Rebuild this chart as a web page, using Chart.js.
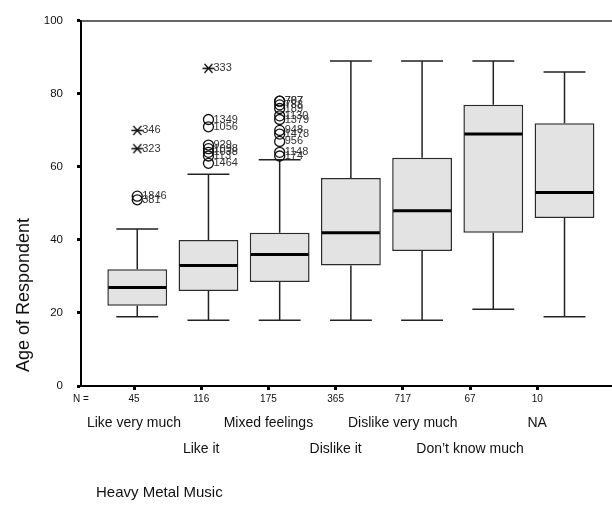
<!DOCTYPE html>
<html>
<head>
<meta charset="utf-8">
<title>Age of Respondent / Heavy Metal Music</title>
<script src="https://cdn.jsdelivr.net/npm/chart.js@4.4.1/dist/chart.umd.min.js"></script>
<style>
    html, body { margin: 0; padding: 0; background: #fff; }
    #box-chart { display: block; }
</style>
</head>
<body>
<canvas id="box-chart" width="612" height="509"></canvas>
<script>
// カテゴリ
const categories = ["Like very much", "Like it", "Mixed feelings", "Dislike it", "Dislike very much", "Don\u2019t know much", "NA"];
const nCounts = [45, 116, 175, 365, 717, 67, 10];

// 箱ひげ図の値
const whiskerLow = [19, 18, 18, 18, 18, 21, 19];
const q1 = [22, 26, 28.5, 33, 37, 42, 46];
const median = [27, 33, 36, 42, 48, 69, 53];
const q3 = [32, 40, 42, 57, 62.5, 77, 72];
const whiskerHigh = [43, 58, 62, 89, 89, 89, 86];

// 外れ値（○）と極値（＊）
const outlierAges = [
    [52, 51],
    [73, 71, 66, 65, 64, 63, 61],
    [78, 78, 77, 76, 74, 73, 70, 69, 67, 64, 63],
    [], [], [], []
];
const outlierCases = [
    ["1846", "381"],
    ["1349", "1056", "929", "1098", "1038", "113", "1464"],
    ["707", "787", "788", "189", "1130", "1379", "948", "1478", "956", "1148", "174"],
    [], [], [], []
];
const extremeAges = [[70, 65], [87], [], [], [], [], []];
const extremeCases = [["346", "323"], ["333"], [], [], [], [], []];

// 目盛り
const yTicks = [0, 20, 40, 60, 80, 100];

const FONT = "'Liberation Sans', Arial, Helvetica, sans-serif";
Chart.defaults.font.family = FONT;
Chart.defaults.color = "#111";

function toPoints(ages, cases) {
    const points = [];
    ages.forEach((list, i) => {
        list.forEach((age, j) => {
            points.push({ x: i, y: age, id: cases[i][j] });
        });
    });
    return points;
}

// 極値マーク
function createStarMark() {
    const c = document.createElement("canvas");
    c.width = 13;
    c.height = 11;
    const g = c.getContext("2d");
    g.strokeStyle = "#111";
    g.lineWidth = 1.3;
    g.beginPath();
    g.moveTo(0.5, 5.5);
    g.lineTo(12.5, 5.5);
    g.moveTo(2.5, 1);
    g.lineTo(10.5, 10);
    g.moveTo(10.5, 1);
    g.lineTo(2.5, 10);
    g.stroke();
    return c;
}

// ひげ・中央値・ケース番号
const boxPlotPlugin = {
    id: "boxPlot",
    beforeDatasetsDraw(chart) {
        const { ctx, scales } = chart;
        const bars = chart.getDatasetMeta(0).data;

        ctx.save();
        ctx.strokeStyle = "#222";
        ctx.lineWidth = 1.5;
        bars.forEach((bar, i) => {
            const yLow = scales.y.getPixelForValue(whiskerLow[i]);
            const yHigh = scales.y.getPixelForValue(whiskerHigh[i]);
            const yQ1 = scales.y.getPixelForValue(q1[i]);
            const yQ3 = scales.y.getPixelForValue(q3[i]);
            const cap = bar.width * 0.35;

            ctx.beginPath();
            ctx.moveTo(bar.x, yQ3);
            ctx.lineTo(bar.x, yHigh);
            ctx.moveTo(bar.x, yQ1);
            ctx.lineTo(bar.x, yLow);
            ctx.moveTo(bar.x - cap, yHigh);
            ctx.lineTo(bar.x + cap, yHigh);
            ctx.moveTo(bar.x - cap, yLow);
            ctx.lineTo(bar.x + cap, yLow);
            ctx.stroke();
        });
        ctx.restore();
    },
    afterDatasetsDraw(chart) {
        const { ctx, scales, chartArea } = chart;
        const bars = chart.getDatasetMeta(0).data;

        ctx.save();
        // 中央値
        ctx.strokeStyle = "#000";
        ctx.lineWidth = 3;
        bars.forEach((bar, i) => {
            const y = scales.y.getPixelForValue(median[i]);
            ctx.beginPath();
            ctx.moveTo(bar.x - bar.width / 2 + 1, y);
            ctx.lineTo(bar.x + bar.width / 2 - 1, y);
            ctx.stroke();
        });

        // ケース番号
        ctx.fillStyle = "#333";
        ctx.font = "11px " + FONT;
        ctx.textAlign = "left";
        ctx.textBaseline = "middle";
        [1, 2].forEach((d) => {
            const points = chart.getDatasetMeta(d).data;
            chart.data.datasets[d].data.forEach((p, j) => {
                ctx.fillText(p.id, points[j].x + 5, points[j].y);
            });
        });

        // 上枠線
        ctx.strokeStyle = "#333";
        ctx.lineWidth = 1.5;
        ctx.beginPath();
        ctx.moveTo(chartArea.left, chartArea.top);
        ctx.lineTo(chartArea.right, chartArea.top);
        ctx.stroke();
        ctx.restore();
    },
    afterDraw(chart) {
        const { ctx, chartArea } = chart;

        ctx.save();
        ctx.fillStyle = "#111";
        ctx.textBaseline = "alphabetic";

        // 縦軸タイトル
        ctx.font = "18px " + FONT;
        ctx.translate(29, chartArea.bottom - 14);
        ctx.rotate(-Math.PI / 2);
        ctx.textAlign = "left";
        ctx.fillText("Age of Respondent", 0, 0);
        ctx.restore();

        // 変数名
        ctx.save();
        ctx.fillStyle = "#111";
        ctx.font = "15px " + FONT;
        ctx.textAlign = "left";
        ctx.fillText("Heavy Metal Music", chartArea.left + 15, chart.height - 12);
        ctx.restore();
    }
};

new Chart(document.getElementById("box-chart"), {
    type: "bar",
    data: {
        datasets: [
            {
                type: "bar",
                label: "box",
                data: q1.map((v, i) => ({ x: i, y: [v, q3[i]] })),
                xAxisID: "x",
                yAxisID: "y",
                backgroundColor: "#e3e3e3",
                borderColor: "#2b2b2b",
                borderWidth: 1.5,
                borderSkipped: false,
                categoryPercentage: 1,
                barPercentage: 0.84
            },
            {
                type: "scatter",
                label: "outliers",
                data: toPoints(outlierAges, outlierCases),
                xAxisID: "x",
                yAxisID: "y",
                pointStyle: "circle",
                pointRadius: 5,
                backgroundColor: "rgba(0,0,0,0)",
                borderColor: "#111",
                borderWidth: 1.3
            },
            {
                type: "scatter",
                label: "extremes",
                data: toPoints(extremeAges, extremeCases),
                xAxisID: "x",
                yAxisID: "y",
                pointStyle: createStarMark()
            }
        ]
    },
    options: {
        responsive: false,
        animation: false,
        layout: {
            autoPadding: false,
            padding: { top: 10, right: 0, bottom: 48, left: 0 }
        },
        plugins: {
            legend: { display: false },
            tooltip: { enabled: false }
        },
        scales: {
            x: {
                type: "linear",
                min: -0.79,
                max: 6.667,
                offset: false,
                grid: { offset: false },
                afterBuildTicks(scale) {
                    scale.ticks = categories.map((c, i) => ({ value: i }));
                },
                display: false
            },
            xN: {
                type: "linear",
                position: "bottom",
                min: -0.789,
                max: 7.113,
                offset: false,
                afterBuildTicks(scale) {
                    scale.ticks = [{ value: scale.min }].concat(nCounts.map((n, i) => ({ value: i })));
                },
                afterFit(scale) {
                    scale.height = 24;
                    scale.paddingLeft = 0;
                    scale.paddingRight = 0;
                },
                ticks: {
                    autoSkip: false,
                    maxRotation: 0,
                    padding: 3,
                    font: { size: 10 },
                    callback: (value, index) => index === 0 ? "N =" : String(nCounts[index - 1])
                },
                grid: {
                    offset: false,
                    drawOnChartArea: false,
                    tickLength: 4,
                    tickWidth: 3,
                    tickColor: (c) => c.index === 0 ? "rgba(0,0,0,0)" : "#000"
                },
                border: { display: true, color: "#000", width: 2 }
            },
            xL: {
                type: "linear",
                position: "bottom",
                weight: 1,
                min: -0.789,
                max: 7.113,
                offset: false,
                afterBuildTicks(scale) {
                    scale.ticks = categories.map((c, i) => ({ value: i }));
                },
                afterFit(scale) {
                    scale.height = 51;
                    scale.paddingLeft = 0;
                    scale.paddingRight = 0;
                },
                ticks: {
                    autoSkip: false,
                    maxRotation: 0,
                    padding: 1,
                    font: { size: 14, lineHeight: 1.8 },
                    callback: (value, index) => index % 2 === 0 ? [categories[index], ""] : ["", categories[index]]
                },
                grid: { display: false, drawTicks: false, offset: false },
                border: { display: false }
            },
            y: {
                type: "linear",
                min: 0,
                max: 100,
                afterBuildTicks(scale) {
                    scale.ticks = yTicks.map((v) => ({ value: v }));
                },
                afterFit(scale) {
                    scale.width = 81;
                },
                ticks: {
                    padding: 14,
                    font: { size: 11.5 }
                },
                grid: {
                    drawOnChartArea: false,
                    tickLength: 4,
                    tickWidth: 3,
                    color: "#000"
                },
                border: { display: true, color: "#000", width: 2 }
            }
        }
    },
    plugins: [boxPlotPlugin]
});
</script>
</body>
</html>
